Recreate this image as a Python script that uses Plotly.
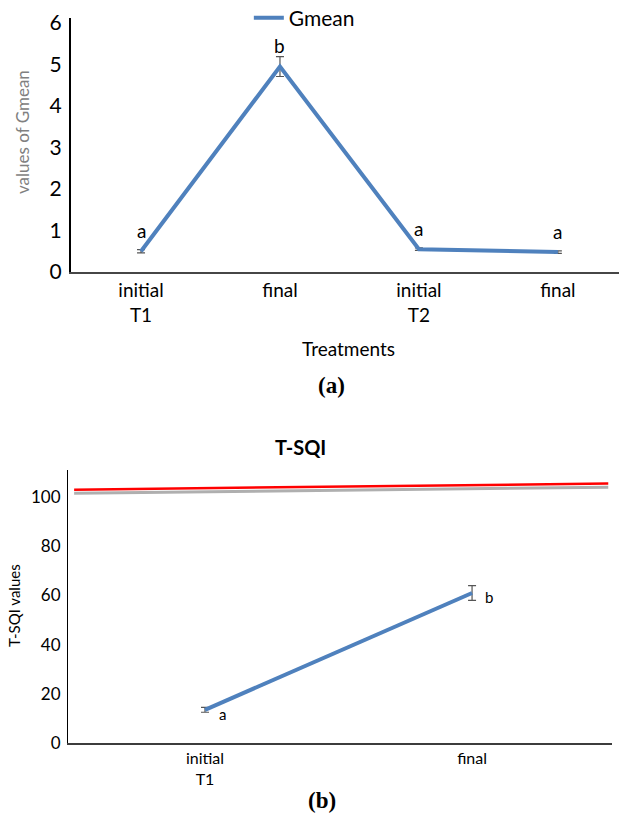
import plotly.graph_objects as go

# ---------------- data (a) ----------------
gmean_ticks = ["initial<br>T1", "final", "initial<br>T2", "final"]
gmean_pos = [0, 1, 2, 3]
gmean_values = [0.50, 4.95, 0.55, 0.48]
gmean_errors = [0.04, 0.24, 0.03, 0.03]
gmean_letters = ["a", "b", "a", "a"]
gmean_yticks = [0, 1, 2, 3, 4, 5, 6]

# ---------------- data (b) ----------------
tsqi_ticks = ["initial<br>T1", "final"]
tsqi_pos = [0, 1]
tsqi_values = [13.5, 61.0]
tsqi_errors = [1.0, 3.0]
tsqi_letters = ["a", "b"]
tsqi_yticks = [0, 20, 40, 60, 80, 100]
ref_x = [-0.49, 1.51]
ref_red = [103.0, 105.5]
ref_gray = [101.5, 104.0]

BLUE = "rgb(79,129,189)"
FONT = "Lato, 'Noto Sans', sans-serif"
SERIF = "'Liberation Serif', 'DejaVu Serif', serif"

fig = go.Figure()

fig.add_trace(go.Scatter(
    x=gmean_pos, y=gmean_values, mode="lines", name="Gmean",
    line=dict(color=BLUE, width=4),
    error_y=dict(type="data", array=gmean_errors, color="#555555", thickness=1.2, width=4),
    xaxis="x", yaxis="y", showlegend=True,
))

fig.add_trace(go.Scatter(
    x=ref_x, y=ref_gray, mode="lines", line=dict(color="rgb(175,175,175)", width=3),
    xaxis="x2", yaxis="y2", showlegend=False, hoverinfo="skip",
))
fig.add_trace(go.Scatter(
    x=ref_x, y=ref_red, mode="lines", line=dict(color="rgb(255,0,0)", width=2.5),
    xaxis="x2", yaxis="y2", showlegend=False, hoverinfo="skip",
))
fig.add_trace(go.Scatter(
    x=tsqi_pos, y=tsqi_values, mode="lines", name="T-SQI",
    line=dict(color=BLUE, width=4),
    error_y=dict(type="data", array=tsqi_errors, color="#555555", thickness=1.2, width=4),
    xaxis="x2", yaxis="y2", showlegend=False,
))

annotations = []
for xv, yv, t in zip(gmean_pos, gmean_values, gmean_letters):
    annotations.append(dict(x=xv, y=yv, xref="x", yref="y", text=t, showarrow=False,
                            xanchor="center", yanchor="middle",
                            yshift=21, font=dict(size=19, color="black", family=FONT)))
for xv, yv, t in zip(tsqi_pos, tsqi_values, tsqi_letters):
    annotations.append(dict(x=xv, y=yv, xref="x2", yref="y2", text=t, showarrow=False,
                            xanchor="center", yanchor="middle",
                            xshift=17, yshift=-4, font=dict(size=15, color="black", family=FONT)))


def paper_text(px, py, text, size, color="black", family=FONT, angle=0):
    return dict(x=px / 619, y=1 - py / 813, xref="paper", yref="paper", text=text,
                showarrow=False, xanchor="center", yanchor="middle", textangle=angle,
                font=dict(size=size, color=color, family=family))


annotations += [
    paper_text(331, 385, "<b>(a)</b>", 23, family=SERIF),
    paper_text(322, 800, "<b>(b)</b>", 23, family=SERIF),
    paper_text(300, 447, "<b>T-SQI</b>", 20),
    paper_text(348, 348, "Treatments", 19),
    paper_text(22, 132, "values of Gmean", 17, color="rgb(128,128,128)", angle=-90),
    paper_text(14, 606, "T-SQI values", 15, angle=-90),
]

fig.update_layout(
    width=619, height=813,
    margin=dict(l=0, r=0, t=0, b=0, autoexpand=False),
    paper_bgcolor="white", plot_bgcolor="white",
    font=dict(family=FONT, color="black"),
    showlegend=True,
    legend=dict(orientation="h", x=0.402, xanchor="left", y=1 - 18/813, yanchor="middle",
                font=dict(size=21, color="black", family=FONT), bgcolor="rgba(0,0,0,0)",
                itemwidth=30),
    annotations=annotations,
    xaxis=dict(domain=[71/619, 1.0], range=[-0.504, 3.44], tickvals=gmean_pos, ticktext=gmean_ticks,
               showline=True, linecolor="rgb(70,70,70)", linewidth=2, showgrid=False, zeroline=False,
               ticks="", tickfont=dict(size=19), anchor="y", fixedrange=True, automargin=False),
    yaxis=dict(domain=[1 - 272/813, 1 - 18/813], range=[0, 6.12], tickvals=gmean_yticks,
               showline=True, linecolor="black", linewidth=2, showgrid=False, zeroline=False,
               ticks="outside", ticklen=3, tickcolor="rgba(0,0,0,0)",
               tickfont=dict(size=21), anchor="x", fixedrange=True, automargin=False),
    xaxis2=dict(domain=[68/619, 612/619], range=[-0.513, 1.524], tickvals=tsqi_pos, ticktext=tsqi_ticks,
                showline=True, linecolor="rgb(60,60,60)", linewidth=1.5, showgrid=False, zeroline=False,
                ticks="", tickfont=dict(size=16), anchor="y2", fixedrange=True, automargin=False),
    yaxis2=dict(domain=[1 - 743/813, 1 - 470/813], range=[0, 111], tickvals=tsqi_yticks,
                showline=True, linecolor="black", linewidth=1, showgrid=False, zeroline=False,
                ticks="outside", ticklen=3, tickcolor="rgba(0,0,0,0)",
                tickfont=dict(size=17), anchor="x2", fixedrange=True, automargin=False),
)

fig.write_html("out.html", post_script="document.body.style.margin='0';",
               config={"displayModeBar": False})
